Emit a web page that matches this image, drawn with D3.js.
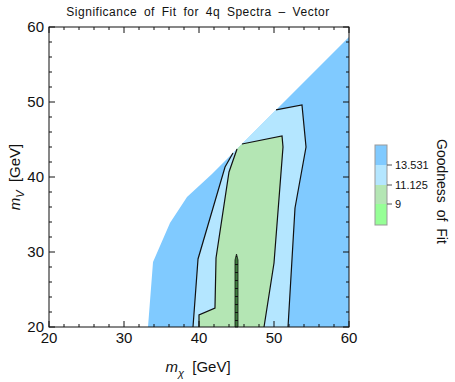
<!DOCTYPE html>
<html>
<head>
<meta charset="utf-8">
<script src="https://cdn.jsdelivr.net/npm/d3@7"></script>
<style>
  body { margin: 0; background: #fff; }
  text { font-family: "Liberation Sans", Arial, sans-serif; fill: #111; }
</style>
</head>
<body>
<div id="chart"></div>
<script>
// region outlines in (m_chi, m_V) GeV

// whole fitted region (above 13.531)
var fitRegion = [[33.2, 20], [33.87, 28.67], [36.13, 33.87], [38.4, 37.33], [41.73, 40.4], [60, 58.67], [60, 20]];
// 11.125 - 13.531
var level13 = [[39.2, 20], [39.87, 29.07], [43.47, 41.33], [44.53, 43.2], [50.27, 48.94], [53.73, 49.6], [54.27, 44.0], [52.8, 35.87], [51.87, 20]];
var level13Lines = [[0, 4], [4, 9]];
// 9 - 11.125
var level11 = [[40, 20], [40, 21.6], [42.13, 22.53], [42.27, 29.2], [44, 40.67], [45.07, 43.74], [45.73, 44.4], [51.07, 45.47], [51.2, 44], [50, 28.53], [48.67, 20]];
var level11Lines = [[0, 6], [6, 11]];
// below 9
var level9 = [[44.8, 20], [44.8, 28.93], [45.0, 29.73], [45.2, 28.93], [45.2, 20]];

var legendLevels = [13.531, 11.125, 9];
var legendColors = ["#80caff", "#b4e6ff", "#b4e6b4", "#96ff96"];
var xTicks = [20, 30, 40, 50, 60];
var yTicks = [20, 30, 40, 50, 60];

var margin = {left: 49, top: 27};
var width = 300, height = 300;

var svg = d3.select("#chart").append("svg")
    .attr("width", 455)
    .attr("height", 382);

var x = d3.scaleLinear().domain([20, 60]).range([margin.left, margin.left + width]);
var y = d3.scaleLinear().domain([20, 60]).range([margin.top + height, margin.top]);

var line = d3.line().x(function(d) { return x(d[0]); }).y(function(d) { return y(d[1]); });

// mesh look of the narrow strip
var pat = svg.append("defs").append("pattern")
    .attr("id", "mesh").attr("patternUnits", "userSpaceOnUse")
    .attr("width", 8).attr("height", 8);
pat.append("rect").attr("width", 8).attr("height", 8).attr("fill", "#3e7d3e");
pat.append("line").attr("x1", 0).attr("x2", 8).attr("y1", 0.5).attr("y2", 0.5)
    .attr("stroke", "#111").attr("stroke-width", 1);

// filled regions
svg.append("path").attr("d", line(fitRegion) + "Z").attr("fill", legendColors[0]);
svg.append("path").attr("d", line(level13) + "Z").attr("fill", legendColors[1]);
svg.append("path").attr("d", line(level11) + "Z").attr("fill", legendColors[2]);
svg.append("path").attr("d", line(level9) + "Z")
    .attr("fill", "url(#mesh)").attr("stroke", "#111").attr("stroke-width", 0.8);

// contour lines (not along the edge of the region)
level13Lines.forEach(function(r) {
  svg.append("path").attr("d", line(level13.slice(r[0], r[1])))
      .attr("fill", "none").attr("stroke", "#111").attr("stroke-width", 1.2);
});
level11Lines.forEach(function(r) {
  svg.append("path").attr("d", line(level11.slice(r[0], r[1])))
      .attr("fill", "none").attr("stroke", "#111").attr("stroke-width", 1.2);
});

// frame + ticks on all sides
svg.append("rect")
    .attr("x", margin.left).attr("y", margin.top)
    .attr("width", width).attr("height", height)
    .attr("fill", "none").attr("stroke", "#111").attr("stroke-width", 1);

var minor = d3.range(20, 61, 2);
function tickLen(v) { return v % 10 == 0 ? 6 : 3; }

var g = svg.append("g").attr("stroke", "#111").attr("stroke-width", 1);
minor.forEach(function(v) {
  var l = tickLen(v);
  g.append("line").attr("x1", x(v)).attr("x2", x(v)).attr("y1", y(20)).attr("y2", y(20) - l);
  g.append("line").attr("x1", x(v)).attr("x2", x(v)).attr("y1", y(60)).attr("y2", y(60) + l);
  g.append("line").attr("y1", y(v)).attr("y2", y(v)).attr("x1", x(20)).attr("x2", x(20) + l);
  g.append("line").attr("y1", y(v)).attr("y2", y(v)).attr("x1", x(60)).attr("x2", x(60) - l);
});

svg.selectAll(".xlab").data(xTicks).enter().append("text")
    .attr("x", function(d) { return x(d); })
    .attr("y", y(20) + 16)
    .attr("text-anchor", "middle")
    .style("font-size", "15px")
    .text(function(d) { return d; });

svg.selectAll(".ylab").data(yTicks).enter().append("text")
    .attr("x", x(20) - 5)
    .attr("y", function(d) { return y(d) + 5; })
    .attr("text-anchor", "end")
    .style("font-size", "15px")
    .text(function(d) { return d; });

// title
svg.append("text")
    .attr("x", 198).attr("y", 16)
    .attr("text-anchor", "middle")
    .style("font-size", "12px")
    .style("letter-spacing", "0.5px")
    .style("word-spacing", "3px")
    .text("Significance of Fit for 4q Spectra \u2013 Vector");

// axis titles
var xt = svg.append("text")
    .attr("x", 198).attr("y", 372)
    .attr("text-anchor", "middle")
    .style("font-size", "15px");
xt.append("tspan").style("font-style", "italic").text("m");
xt.append("tspan").attr("dy", 5).style("font-size", "11px").style("font-style", "italic").text("\u03c7");
xt.append("tspan").attr("dy", -5).text("\u00a0\u00a0[GeV]");

var yt = svg.append("text")
    .attr("transform", "translate(20,177) rotate(-90)")
    .attr("text-anchor", "middle")
    .style("font-size", "15px");
yt.append("tspan").style("font-style", "italic").text("m");
yt.append("tspan").attr("dy", 4).style("font-size", "11px").style("font-style", "italic").text("V");
yt.append("tspan").attr("dy", -4).text("\u00a0\u00a0[GeV]");

// legend
var lx = 375, lw = 12;
var bands = [[145, 165], [165, 185], [185, 204], [204, 225]];
bands.forEach(function(b, i) {
  svg.append("rect").attr("x", lx).attr("y", b[0])
      .attr("width", lw).attr("height", b[1] - b[0])
      .attr("fill", legendColors[i]);
});
svg.append("rect").attr("x", lx).attr("y", 145).attr("width", lw).attr("height", 80)
    .attr("fill", "none").attr("stroke", "#999").attr("stroke-width", 1);
legendLevels.forEach(function(v, i) {
  var yy = bands[i][1];
  svg.append("line").attr("x1", lx + lw).attr("x2", lx + lw + 5)
      .attr("y1", yy).attr("y2", yy).attr("stroke", "#555");
  svg.append("text").attr("x", lx + lw + 8).attr("y", yy + 4)
      .style("font-size", "11px").text(v);
});

svg.append("text")
    .attr("transform", "translate(437,139) rotate(90)")
    .style("font-size", "14px")
    .style("word-spacing", "3px")
    .text("Goodness of Fit");
</script>
</body>
</html>
